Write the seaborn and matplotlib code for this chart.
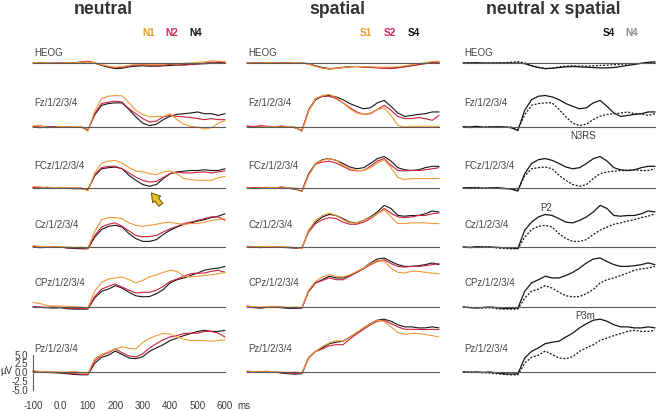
import pandas as pd
import matplotlib
matplotlib.use("Agg")
import matplotlib.pyplot as plt
from matplotlib.ticker import FixedLocator, FixedFormatter
import seaborn as sns

# --- Data (µV, 25 ms steps) ---
MS = list(range(-100, 601, 25))

ROW_LABELS = ["HEOG", "Fz/1/2/3/4", "FCz/1/2/3/4", "Cz/1/2/3/4", "CPz/1/2/3/4", "Pz/1/2/3/4"]
TITLES = ["neutral", "spatial", "neutral x spatial"]

# neutral
N1_HEOG = [0.2, 0.0, 0.1, -0.1, 0.0, 0.1, 0.0, 0.2, 0.3, 0.1, -0.5, -0.9, -1.2, -1.0, -0.7, -0.4, -0.3, -0.5, -0.4, -0.3, -0.2, -0.3, -0.1, 0.0, 0.2, 0.3, 0.6, 0.5, 0.4]
N2_HEOG = [0.1, 0.0, -0.1, 0.0, 0.1, 0.0, 0.0, 0.3, 0.5, 0.1, -0.6, -1.0, -1.4, -1.2, -0.9, -0.6, -0.5, -0.7, -0.9, -0.6, -0.4, -0.5, -0.6, -0.4, -0.2, 0.0, 0.2, 0.3, 0.1]
N4_HEOG = [0.0, 0.1, 0.0, -0.1, 0.0, 0.0, 0.1, 0.2, 0.4, 0.0, -0.7, -1.2, -1.6, -1.5, -1.1, -0.9, -0.8, -0.9, -0.9, -0.8, -0.7, -0.6, -0.5, -0.4, -0.3, -0.2, -0.1, 0.1, 0.3]

N1_FZ = [0.3, 0.5, 0.0, -0.2, 0.2, 0.0, 0.1, 0.2, -1.2, 4.5, 8.1, 8.8, 9.0, 8.9, 6.9, 4.8, 3.6, 2.9, 3.0, 3.0, 3.8, 2.1, 0.8, 0.2, 0.0, -0.6, -0.2, 1.0, 1.9]
N2_FZ = [0.2, 0.0, -0.2, 0.1, 0.0, 0.1, -0.1, 0.0, -1.0, 3.8, 6.7, 7.1, 7.4, 7.1, 5.2, 3.8, 2.4, 1.4, 1.7, 2.9, 3.3, 3.0, 2.9, 2.7, 2.4, 2.1, 2.4, 2.1, 2.1]
N4_FZ = [0.0, -0.2, 0.1, 0.0, 0.1, -0.1, 0.0, 0.0, -0.8, 3.5, 6.2, 6.7, 6.9, 6.9, 5.0, 2.9, 1.1, 0.4, 0.8, 2.1, 3.1, 3.6, 3.8, 4.0, 4.3, 3.8, 3.8, 3.3, 3.8]

N1_FCZ = [0.4, 0.3, 0.0, 0.1, 0.2, 0.0, 0.1, 0.0, -0.8, 4.3, 7.1, 7.7, 7.9, 7.1, 5.8, 4.9, 4.6, 4.1, 3.8, 4.6, 4.9, 4.1, 2.7, 2.4, 2.2, 2.2, 2.2, 2.9, 3.3]
N2_FCZ = [0.0, 0.2, 0.0, 0.1, 0.1, 0.0, -0.1, 0.0, -0.6, 3.8, 5.8, 6.2, 6.2, 5.5, 4.3, 3.1, 2.2, 1.7, 1.9, 3.0, 4.1, 4.6, 4.3, 4.3, 4.5, 4.6, 4.3, 4.6, 4.9]
N4_FCZ = [0.1, 0.0, 0.2, 0.0, 0.0, -0.1, -0.2, -0.2, -0.5, 3.5, 5.5, 5.8, 6.0, 5.5, 3.6, 2.2, 1.0, 0.5, 1.0, 2.7, 4.1, 4.6, 4.8, 5.0, 5.0, 5.2, 5.0, 5.0, 5.5]

N1_CZ = [0.4, 0.2, 0.1, 0.0, 0.1, 0.0, -0.1, 0.0, -0.3, 4.5, 7.8, 8.4, 8.4, 8.1, 6.9, 6.2, 5.9, 6.2, 6.5, 6.9, 7.1, 6.7, 6.5, 6.7, 6.7, 7.1, 7.6, 7.8, 8.1]
N2_CZ = [0.2, 0.0, 0.0, 0.1, 0.0, -0.2, -0.2, -0.3, -0.4, 3.3, 5.7, 6.5, 6.9, 5.9, 4.6, 3.3, 2.9, 3.0, 3.3, 4.3, 5.2, 5.9, 6.7, 7.1, 7.6, 8.1, 8.6, 8.6, 7.6]
N4_CZ = [0.0, -0.2, -0.1, 0.0, 0.0, -0.3, -0.4, -0.5, -0.5, 2.8, 5.0, 5.9, 6.2, 5.7, 3.8, 2.4, 1.6, 1.6, 2.1, 3.6, 4.8, 5.7, 6.5, 6.9, 7.4, 7.8, 8.4, 8.8, 9.5]

N1_CPZ = [1.3, 1.0, 0.4, 0.3, 0.3, 0.2, 0.1, 0.0, -0.3, 4.6, 7.0, 8.0, 8.3, 8.6, 7.8, 6.9, 7.6, 8.6, 9.2, 9.9, 10.5, 10.2, 8.8, 8.6, 8.8, 9.0, 9.2, 9.5, 9.9]
N2_CPZ = [0.1, 0.0, -0.1, 0.0, -0.1, -0.3, -0.4, -0.4, -0.5, 3.0, 5.1, 5.9, 6.6, 5.7, 4.8, 4.0, 4.2, 4.2, 4.8, 5.9, 7.3, 8.0, 8.8, 9.5, 9.7, 9.7, 10.2, 10.5, 9.9]
N4_CPZ = [0.0, -0.1, -0.2, -0.3, -0.2, -0.5, -0.6, -0.6, -0.6, 2.6, 4.5, 5.1, 6.1, 5.4, 4.2, 3.2, 2.9, 3.0, 3.8, 5.0, 6.9, 7.8, 8.3, 9.0, 9.7, 10.5, 10.9, 11.1, 11.6]

N1_PZ = [0.4, 0.2, 0.0, 0.1, 0.0, 0.0, 0.2, -0.2, -0.5, 3.8, 5.0, 5.8, 6.6, 7.2, 6.8, 6.6, 8.4, 9.6, 10.4, 11.0, 10.8, 10.0, 9.4, 9.0, 9.0, 9.0, 8.8, 9.0, 9.2]
N2_PZ = [0.2, 0.0, 0.1, -0.1, -0.2, -0.3, -0.5, -0.6, -0.7, 3.2, 4.8, 5.5, 6.6, 5.5, 4.6, 4.3, 5.2, 6.9, 8.1, 9.2, 10.0, 10.4, 11.0, 11.1, 11.1, 11.6, 11.6, 11.1, 10.0]
N4_PZ = [0.1, 0.0, -0.1, -0.2, -0.3, -0.5, -0.7, -0.8, -0.8, 2.5, 4.2, 4.8, 6.0, 5.0, 4.0, 3.8, 4.4, 5.9, 6.9, 7.8, 9.0, 9.7, 10.4, 11.0, 11.6, 11.9, 11.6, 11.6, 11.9]

# spatial
S1_HEOG = [0.1, 0.0, 0.0, 0.1, 0.0, 0.0, 0.0, 0.1, 0.0, -0.3, -1.0, -1.5, -1.7, -1.6, -1.3, -1.1, -1.0, -1.0, -1.1, -1.2, -1.2, -1.2, -1.1, -0.8, -0.5, -0.2, 0.1, 0.4, 0.5]
S2_HEOG = [0.0, 0.1, 0.0, 0.0, 0.0, 0.0, 0.1, 0.0, 0.0, -0.3, -0.9, -1.4, -1.7, -1.5, -1.2, -1.0, -1.0, -1.2, -1.3, -1.4, -1.5, -1.6, -1.4, -1.1, -0.8, -0.5, -0.2, 0.1, 0.3]
S4_HEOG = [0.0, 0.0, 0.1, 0.0, 0.0, 0.0, 0.0, 0.0, 0.0, -0.2, -0.8, -1.3, -1.6, -1.5, -1.3, -1.1, -1.0, -1.1, -1.2, -1.3, -1.4, -1.4, -1.3, -1.0, -0.7, -0.4, -0.1, 0.2, 0.3]

S1_FZ = [0.0, -0.2, 0.1, 0.0, 0.1, 0.0, 0.1, 0.0, -1.3, 4.6, 8.1, 9.0, 9.3, 8.4, 6.9, 5.2, 4.0, 3.6, 4.0, 5.0, 5.5, 3.3, 0.5, 0.0, 0.2, 0.2, 0.2, 0.2, 0.2]
S2_FZ = [0.3, 0.1, 0.4, 0.2, 0.0, 0.3, 0.1, -0.1, -1.1, 5.0, 8.1, 8.8, 8.8, 8.1, 6.9, 5.5, 4.3, 3.6, 3.8, 5.0, 6.2, 4.8, 3.0, 2.4, 2.4, 2.7, 2.4, 1.9, 3.3]
S4_FZ = [0.1, 0.0, 0.2, -0.1, 0.0, 0.1, 0.0, -0.2, -1.0, 4.8, 7.8, 8.8, 9.0, 8.6, 7.8, 6.7, 5.9, 5.2, 5.5, 6.9, 7.6, 5.9, 4.0, 3.0, 3.3, 3.6, 3.8, 4.3, 4.3]

S1_FCZ = [0.1, -0.1, 0.0, 0.1, 0.2, 0.0, 0.1, 0.0, -1.1, 3.6, 7.0, 7.9, 8.4, 7.9, 6.5, 5.5, 5.0, 5.0, 5.8, 7.1, 8.1, 5.8, 3.0, 2.4, 2.7, 2.7, 2.7, 2.7, 2.7]
S2_FCZ = [0.2, 0.0, 0.1, 0.2, 0.0, 0.3, 0.0, -0.2, -0.9, 3.9, 6.8, 7.4, 7.7, 7.1, 6.2, 5.2, 4.9, 5.0, 6.2, 7.7, 8.4, 6.5, 5.0, 4.9, 5.0, 5.0, 5.2, 5.5, 5.8]
S4_FCZ = [0.0, 0.1, 0.0, -0.1, 0.0, 0.1, -0.1, -0.3, -0.9, 4.1, 7.0, 8.1, 8.4, 7.9, 7.0, 6.0, 5.5, 5.8, 7.0, 8.4, 9.0, 7.7, 5.8, 5.2, 5.0, 5.2, 5.8, 6.2, 6.2]

S1_CZ = [0.1, 0.0, 0.1, 0.2, 0.0, 0.1, 0.0, -0.1, -0.5, 4.8, 7.6, 9.0, 9.7, 9.0, 7.8, 6.9, 6.9, 7.6, 8.4, 9.5, 10.7, 8.6, 6.7, 6.7, 6.9, 6.9, 6.9, 6.7, 6.7]
S2_CZ = [0.2, 0.1, -0.2, 0.0, 0.1, 0.0, -0.1, -0.2, -0.3, 4.3, 6.7, 7.8, 8.4, 8.1, 7.1, 6.5, 6.5, 7.1, 8.1, 9.5, 11.0, 9.7, 8.6, 8.4, 8.6, 9.0, 9.0, 9.5, 9.7]
S4_CZ = [0.0, -0.1, 0.1, 0.0, 0.0, -0.1, -0.2, -0.3, -0.4, 4.8, 7.1, 8.6, 9.3, 9.0, 8.1, 7.1, 6.9, 7.6, 8.6, 10.0, 11.9, 11.0, 9.0, 8.8, 9.0, 9.0, 9.5, 10.3, 10.0]

S1_CPZ = [0.2, 0.1, 0.0, 0.1, 0.1, 0.0, -0.1, 0.0, -0.2, 4.9, 7.3, 8.6, 9.2, 8.8, 8.6, 9.2, 10.2, 11.1, 12.4, 13.3, 13.0, 11.1, 9.9, 9.7, 10.2, 10.2, 9.9, 9.7, 9.5]
S2_CPZ = [0.3, 0.0, -0.3, 0.0, 0.2, 0.0, -0.2, -0.2, -0.3, 4.6, 6.9, 7.6, 8.3, 7.8, 7.8, 8.8, 9.9, 10.9, 12.1, 13.0, 13.5, 12.4, 11.6, 11.4, 11.6, 11.6, 11.8, 12.1, 12.4]
S4_CPZ = [0.0, -0.2, -0.3, -0.1, 0.0, -0.2, -0.4, -0.4, -0.3, 4.5, 6.9, 7.8, 8.8, 8.3, 8.3, 9.0, 9.9, 11.1, 12.6, 13.7, 14.0, 13.0, 12.1, 11.6, 11.6, 11.8, 12.1, 12.6, 12.1]

S1_PZ = [0.3, 0.1, 0.0, 0.1, 0.1, 0.0, -0.1, 0.0, -0.3, 4.0, 5.9, 7.3, 8.3, 9.0, 8.8, 10.0, 11.3, 12.6, 13.8, 14.8, 14.5, 12.9, 11.3, 10.7, 11.0, 11.0, 10.7, 10.4, 10.0]
S2_PZ = [0.2, 0.0, 0.1, 0.2, 0.0, -0.2, -0.3, -0.4, -0.4, 4.2, 5.9, 6.6, 7.5, 7.8, 7.8, 9.4, 10.9, 12.2, 13.5, 14.5, 14.8, 13.8, 12.9, 12.2, 12.2, 12.2, 12.1, 12.2, 12.1]
S4_PZ = [0.0, -0.1, 0.0, -0.1, 0.0, -0.3, -0.5, -0.6, -0.5, 4.0, 5.9, 6.9, 8.1, 8.5, 8.8, 10.0, 11.1, 12.6, 13.8, 14.8, 15.1, 14.5, 13.5, 12.9, 12.9, 12.6, 12.6, 12.9, 12.6]

TRACES = {
    "N1": [N1_HEOG, N1_FZ, N1_FCZ, N1_CZ, N1_CPZ, N1_PZ],
    "N2": [N2_HEOG, N2_FZ, N2_FCZ, N2_CZ, N2_CPZ, N2_PZ],
    "N4": [N4_HEOG, N4_FZ, N4_FCZ, N4_CZ, N4_CPZ, N4_PZ],
    "S1": [S1_HEOG, S1_FZ, S1_FCZ, S1_CZ, S1_CPZ, S1_PZ],
    "S2": [S2_HEOG, S2_FZ, S2_FCZ, S2_CZ, S2_CPZ, S2_PZ],
    "S4": [S4_HEOG, S4_FZ, S4_FCZ, S4_CZ, S4_CPZ, S4_PZ],
}
COL_CONDS = [["N4", "N2", "N1"], ["S4", "S2", "S1"], ["S4", "N4"]]

# --- Style / layout ---
ORANGE = "#EE9A35"
RED = "#CC1F3F"
BLACK = "#151515"
PALETTES = [
    {"N1": ORANGE, "N2": RED, "N4": BLACK},
    {"S1": ORANGE, "S2": RED, "S4": BLACK},
    {"S4": BLACK, "N4": BLACK},
]
LEGENDS = [
    [("N1", "#F29A2E", 149), ("N2", "#D42456", 172), ("N4", "#111111", 196)],
    [("S1", "#F29A2E", 366), ("S2", "#D42456", 390), ("S4", "#111111", 414)],
    [("S4", "#111111", 609), ("N4", "#8a8a8a", 632)],
]
TITLE_X = [103, 337, 553]

W, H = 656, 411
COL_LEFT = [33, 247, 463]
COL_W = 192
BASELINE = [63, 127, 188, 247, 307, 372]
PX_PER_UV = 3.5
YLIM = (-6, 16)
LABEL_Y = [2.9, 6.9, 6.3, 6.3, 6.9, 6.6]
AXIS_GREY = "#5a5a5a"
TEXT_GREY = "#3a3a3a"

sns.set_style("white")
plt.rcParams["font.family"] = ["Liberation Sans", "DejaVu Sans"]
plt.rcParams["axes.unicode_minus"] = False


def style_axes(ax, with_labels):
    ax.set_xlim(-100, 600)
    ax.set_ylim(*YLIM)
    ax.set_facecolor("none")
    ax.set_xlabel("")
    ax.set_ylabel("")
    for s in ["top", "right", "left"]:
        ax.spines[s].set_visible(False)
    ax.spines["bottom"].set_position(("data", 0))
    ax.spines["bottom"].set_color(AXIS_GREY)
    ax.spines["bottom"].set_linewidth(0.8)
    ax.xaxis.set_major_locator(FixedLocator([0]))
    minor = [-100, 100, 200, 300, 400, 500, 600]
    ax.xaxis.set_minor_locator(FixedLocator(minor))
    ax.tick_params(axis="x", which="major", direction="inout", length=8.6, width=0.8,
                   color=AXIS_GREY, labelbottom=with_labels, pad=16.5, labelsize=7,
                   labelcolor=TEXT_GREY)
    ax.tick_params(axis="x", which="minor", direction="inout", length=3.4, width=0.8,
                   color=AXIS_GREY, labelbottom=with_labels, pad=19, labelsize=7,
                   labelcolor=TEXT_GREY)
    if with_labels:
        ax.xaxis.set_major_formatter(FixedFormatter(["0.0"]))
        ax.xaxis.set_minor_formatter(FixedFormatter([str(m) for m in minor]))
        ax.spines["left"].set_visible(True)
        ax.spines["left"].set_bounds(-5, 5)
        ax.spines["left"].set_color(AXIS_GREY)
        ax.spines["left"].set_linewidth(0.8)
        yt = [5, 2.5, 0, -2.5, -5]
        ax.set_yticks(yt)
        ax.set_yticklabels([f"{v:.1f}" for v in yt])
        ax.tick_params(axis="y", direction="out", length=2.5, width=0.8, color=AXIS_GREY,
                       pad=0.8, labelsize=7, labelcolor=TEXT_GREY)
        ax.text(-196, 0.3, "µV", ha="center", va="center", fontsize=7, color=TEXT_GREY)
        ax.text(668, -9.6, "ms", ha="center", va="center", fontsize=7, color=TEXT_GREY)
    else:
        ax.set_xticklabels([])
        ax.set_xticklabels([], minor=True)
        ax.set_yticks([])


fig = plt.figure(figsize=(W / 100, H / 100), dpi=100)

axes = {}
for col in range(3):
    conds = COL_CONDS[col]
    for row in range(6):
        bottom = 1 - (BASELINE[row] - YLIM[0] * PX_PER_UV) / H
        height = (YLIM[1] - YLIM[0]) * PX_PER_UV / H
        ax = fig.add_axes([COL_LEFT[col] / W, bottom, COL_W / W, height])
        df = pd.concat([pd.DataFrame({"ms": MS, "uV": TRACES[c][row], "cond": c}) for c in conds])
        if col < 2:
            sns.lineplot(data=df, x="ms", y="uV", hue="cond", hue_order=conds,
                         palette=PALETTES[col], estimator=None, legend=False, ax=ax,
                         linewidth=0.8, clip_on=False)
        else:
            sns.lineplot(data=df, x="ms", y="uV", hue="cond", hue_order=conds,
                         style="cond", style_order=conds, dashes={"S4": "", "N4": (1.6, 1.3)},
                         palette=PALETTES[col], estimator=None, legend=False, ax=ax,
                         linewidth=0.9, clip_on=False)
        style_axes(ax, col == 0 and row == 5)
        ax.text(-95, LABEL_Y[row], ROW_LABELS[row], ha="left", va="center",
                fontsize=7, color="#444444")
        axes[(col, row)] = ax

# titles and condition keys
for col in range(3):
    fig.text(TITLE_X[col] / W, 1 - 10 / H, TITLES[col], ha="center", va="center",
             fontsize=12.7, fontweight="bold", color="#333333")
    for name, color, x in LEGENDS[col]:
        fig.text(x / W, 1 - 33 / H, name, ha="center", va="center", fontsize=7.2,
                 fontweight="bold", color=color)

# arrow marking the neutral FCz dip
axes[(0, 2)].annotate("", xy=(332, -1.4), xytext=(366, -4.8),
                      arrowprops=dict(arrowstyle="simple,head_length=0.6,head_width=0.75,tail_width=0.35",
                                      fc="#E8C020", ec="#4a4000", lw=0.6, shrinkA=0, shrinkB=0,
                                      mutation_scale=10),
                      annotation_clip=False)

# component labels in the interaction column
axes[(2, 1)].text(339, -2.6, "N3RS", ha="center", va="center", fontsize=7, color=TEXT_GREY)
axes[(2, 3)].text(204, 11.1, "P2", ha="center", va="center", fontsize=7, color=TEXT_GREY)
axes[(2, 5)].text(347, 16.0, "P3m", ha="center", va="center", fontsize=7, color=TEXT_GREY)

fig.savefig("out.png", dpi=100)
